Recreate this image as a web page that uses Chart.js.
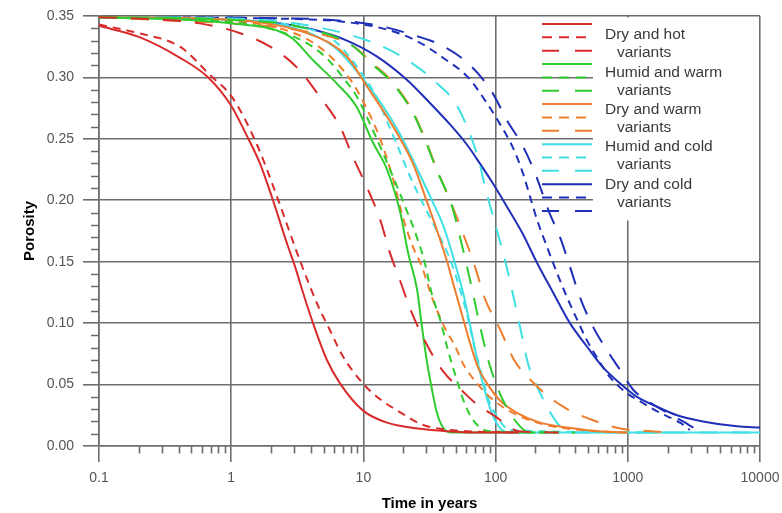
<!DOCTYPE html>
<html><head><meta charset="utf-8">
<script src="https://cdn.jsdelivr.net/npm/chart.js@4.4.1/dist/chart.umd.min.js"></script>
<style>html,body{margin:0;padding:0;background:#fff;}#wrap{width:782px;height:513px;}</style>
</head><body><div id="wrap"><canvas id="c" width="782" height="513"></canvas></div>
<script>
// ---- data (time in years -> porosity) ----
const redSolidX = [0.1,0.2,0.41,0.67,1.0,1.32,1.65,2.07,2.64,3.04,3.49,4.16,5.3,6.65,9.9,15.1,26.8,43,70,150];
const redSolidY = [0.342,0.333,0.316,0.300,0.277,0.252,0.230,0.200,0.165,0.146,0.125,0.100,0.070,0.051,0.029,0.019,0.014,0.012,0.011,0.011];
const redShortX = [0.1,0.2,0.41,0.69,1.03,1.57,2.22,3.31,4.46,5.6,7.0,9.9,13.4,20,27,38,60,150];
const redShortY = [0.343,0.336,0.325,0.302,0.283,0.245,0.203,0.151,0.116,0.094,0.073,0.051,0.038,0.026,0.018,0.014,0.012,0.011];
const redLongX = [0.1,0.3,0.58,1.17,1.97,3.15,4.7,6.65,8.35,10.6,13.4,15.9,18.9,22.5,30,40,57,72,100,125,150,300];
const redLongY = [0.349,0.347,0.344,0.336,0.325,0.308,0.284,0.260,0.235,0.211,0.184,0.157,0.135,0.112,0.083,0.061,0.044,0.034,0.024,0.016,0.012,0.011];

const greenSolidX = [0.1,1,2.8,4.16,6.3,8.9,11.8,15.1,19,21.8,25.5,27.5,30.3,33,36,40,46.6,200];
const greenSolidY = [0.349,0.344,0.333,0.314,0.295,0.276,0.247,0.225,0.190,0.157,0.127,0.100,0.068,0.046,0.027,0.015,0.011,0.011];
const greenShortX = [0.1,1,3,5,7.5,8.95,11.8,15.9,20.5,25,29,32.9,38.5,43.6,49.5,58.6,70,90,300];
const greenShortY = [0.349,0.345,0.333,0.318,0.296,0.284,0.257,0.225,0.196,0.172,0.150,0.124,0.101,0.078,0.058,0.034,0.019,0.012,0.011];
const greenLongX = [0.1,1,3,8.2,11.6,16.7,23.7,29.3,35.4,46.8,53.8,60.8,70,77.6,90.7,114,153,180,400];
const greenLongY = [0.349,0.347,0.342,0.326,0.311,0.295,0.271,0.249,0.226,0.195,0.170,0.146,0.116,0.094,0.065,0.037,0.016,0.011,0.011];

const orangeSolidX = [0.1,1,4.2,7.5,10.6,14.1,17.9,23.7,29.3,36.7,43,49,56,64,73.6,86,108,145,217,347,600,1000];
const orangeSolidY = [0.349,0.347,0.334,0.317,0.293,0.273,0.255,0.230,0.203,0.173,0.150,0.128,0.106,0.084,0.064,0.051,0.037,0.027,0.019,0.015,0.012,0.011];
const orangeShortX = [0.1,1,3,5,8,10,13.4,16.7,19.9,23.7,27.7,33,41.4,49.5,56.7,72.3,97,135,206,307,600,1000];
const orangeShortY = [0.349,0.346,0.336,0.322,0.298,0.280,0.250,0.218,0.186,0.162,0.146,0.121,0.096,0.081,0.067,0.051,0.037,0.027,0.019,0.015,0.012,0.011];
const orangeLongX = [0.1,0.4,1,3,8.2,11.6,16.7,23.7,29.3,35.4,46.8,56.7,69.8,83,108,138,199,324,546,900,1500,2000];
const orangeLongY = [0.349,0.346,0.344,0.339,0.326,0.312,0.296,0.272,0.250,0.227,0.196,0.173,0.146,0.120,0.095,0.070,0.050,0.032,0.021,0.014,0.012,0.011];

const cyanSolidX = [0.1,1,3,6,9.4,14,18,22,27,33,40,46,52,57,62,66,72,80,90,100,112,130,10000];
const cyanSolidY = [0.349,0.347,0.340,0.325,0.302,0.277,0.258,0.240,0.220,0.200,0.180,0.160,0.140,0.124,0.106,0.092,0.072,0.051,0.032,0.020,0.013,0.011,0.011];
const cyanShortX = [0.1,1,3,6,9.9,12.7,15,18,22,28,36,46,54,60.8,67.5,77.6,87.6,102.5,128,2000];
const cyanShortY = [0.349,0.347,0.342,0.330,0.302,0.283,0.265,0.245,0.222,0.198,0.175,0.150,0.127,0.107,0.085,0.060,0.039,0.024,0.013,0.011];
const cyanLongX = [0.1,1,4,13.4,23.7,35.4,51,73,86,102,118,133,153,176,213,291,360,10000];
const cyanLongY = [0.349,0.348,0.342,0.326,0.311,0.296,0.277,0.236,0.205,0.176,0.151,0.127,0.097,0.067,0.045,0.019,0.011,0.011];

const blueSolidX = [0.1,1,2.34,4.16,7.5,12.7,21.4,32,45,61,76,95,120,160,206,272,365,491,650,873,1174,1660,2360,3700,6700,10000];
const blueSolidY = [0.349,0.347,0.344,0.339,0.330,0.317,0.298,0.279,0.262,0.245,0.230,0.214,0.196,0.173,0.149,0.125,0.100,0.081,0.064,0.051,0.040,0.032,0.025,0.020,0.016,0.015];
const blueShortX = [0.1,2,7.5,15,25,40,62,86,108,135,161,182,206,245,291,347,413,491,585,733,986,1300,1750,2480,2950];
const blueShortY = [0.349,0.348,0.345,0.339,0.330,0.316,0.300,0.279,0.262,0.243,0.222,0.203,0.184,0.162,0.141,0.121,0.103,0.086,0.072,0.056,0.043,0.035,0.027,0.019,0.013];
const blueLongX = [0.1,3,11.8,23,39,64,94,122,161,199,255,307,365,435,546,696,873,1094,1397,1847,2616,3338];
const blueLongY = [0.349,0.348,0.343,0.335,0.326,0.310,0.288,0.265,0.244,0.222,0.190,0.170,0.146,0.121,0.097,0.078,0.062,0.046,0.037,0.029,0.020,0.013];

const groupNames = ['Dry and hot','Humid and warm','Dry and warm','Humid and cold','Dry and cold'];
const variantLabel = 'variants';
const xTickValues = [0.1,1,10,100,1000,10000];
const xTickLabels = ['0.1','1','10','100','1000','10000'];
const yTickValues = [0,0.05,0.10,0.15,0.20,0.25,0.30,0.35];
const yTickLabels = ['0.00','0.05','0.10','0.15','0.20','0.25','0.30','0.35'];
const xAxisTitle = 'Time in years';
const yAxisTitle = 'Porosity';

// ---- styling ----
const colors = ['#d82b2b','#2fcc2f','#ef7d2e','#3fe0e4','#1f2fb8'];
const plotDash = [[], [8,6], [18,14]];
const legendDash = [[], [10,7], [17,16]];
const gridColor = '#6e6e6e';
const FONT = 'Arial, "Liberation Sans", sans-serif';

const seriesX = [[redSolidX,redShortX,redLongX],[greenSolidX,greenShortX,greenLongX],[orangeSolidX,orangeShortX,orangeLongX],[cyanSolidX,cyanShortX,cyanLongX],[blueSolidX,blueShortX,blueLongX]];
const seriesY = [[redSolidY,redShortY,redLongY],[greenSolidY,greenShortY,greenLongY],[orangeSolidY,orangeShortY,orangeLongY],[cyanSolidY,cyanShortY,cyanLongY],[blueSolidY,blueShortY,blueLongY]];

const datasets = [];
for (let g = 0; g < 5; g++) {
  for (let s = 0; s < 3; s++) {
    const xs = seriesX[g][s], ys = seriesY[g][s];
    datasets.push({
      label: s === 0 ? groupNames[g] : variantLabel,
      data: xs.map((x, i) => ({x: x, y: ys[i]})),
      borderColor: colors[g],
      borderWidth: 2,
      borderDash: plotDash[s],
      pointRadius: 0,
      fill: false,
      cubicInterpolationMode: 'monotone'
    });
  }
}

const legendPlugin = {
  id: 'customLegend',
  beforeDatasetsDraw(chart) {
    const ctx = chart.ctx, a = chart.chartArea;
    ctx.save();
    ctx.fillStyle = '#ffffff';
    ctx.fillRect(a.right - 167, a.top + 1.5, 166, 203);
    ctx.restore();
  },
  afterDatasetsDraw(chart) {
    const ctx = chart.ctx, a = chart.chartArea;
    const x0 = a.right - 218, x1 = a.right - 168;
    ctx.save();
    ctx.lineWidth = 2;
    for (let g = 0; g < 5; g++) {
      for (let s = 0; s < 3; s++) {
        const y = a.top + 8 + (g * 3 + s) * 13.35;
        ctx.strokeStyle = colors[g];
        ctx.setLineDash(legendDash[s]);
        ctx.beginPath(); ctx.moveTo(x0, y); ctx.lineTo(x1, y); ctx.stroke();
      }
    }
    ctx.setLineDash([]);
    ctx.fillStyle = '#3a3a3a';
    ctx.font = '15.5px ' + FONT;
    ctx.textBaseline = 'middle';
    ctx.textAlign = 'left';
    for (let g = 0; g < 5; g++) {
      ctx.fillText(groupNames[g], a.right - 155, a.top + 19 + g * 37.4);
      ctx.fillText(variantLabel, a.right - 143, a.top + 37 + g * 37.4);
    }
    ctx.restore();
  },
  afterDraw(chart) {
    const ctx = chart.ctx, a = chart.chartArea;
    const xs = chart.scales.x, ys = chart.scales.y;
    ctx.save();
    ctx.strokeStyle = gridColor;
    ctx.lineWidth = 1.6;
    ctx.beginPath();
    for (let d = 0; d < xTickValues.length - 1; d++) {
      for (let k = 2; k <= 9; k++) {
        const px = Math.round(xs.getPixelForValue(xTickValues[d] * k)) + 0.5;
        ctx.moveTo(px, a.bottom); ctx.lineTo(px, a.bottom + 7.5);
      }
    }
    for (let i = 1; i < 35; i++) {
      if (i % 5 === 0) continue;
      const py = Math.round(ys.getPixelForValue(i / 100)) + 0.5;
      ctx.moveTo(a.left - 8, py); ctx.lineTo(a.left, py);
    }
    ctx.stroke();
    ctx.restore();
  }
};

new Chart(document.getElementById('c'), {
  type: 'line',
  data: { datasets: datasets },
  plugins: [legendPlugin],
  options: {
    responsive: false,
    animation: false,
    devicePixelRatio: 1,
    layout: { padding: { top: 16, right: 22, bottom: 0, left: 0 } },
    plugins: { legend: { display: false }, tooltip: { enabled: false } },
    scales: {
      x: {
        type: 'logarithmic', min: 0.1, max: 10000,
        afterBuildTicks: s => { s.ticks = xTickValues.map(v => ({ value: v, major: true })); },
        afterFit: s => { s.height = 67; s.paddingLeft = 0; s.paddingRight = 0; },
        ticks: {
          autoSkip: false, maxRotation: 0, padding: 8, color: '#555555',
          font: { family: FONT, size: 14 },
          callback: v => { const i = xTickValues.findIndex(t => Math.abs(t - v) < t * 1e-6); return i >= 0 ? xTickLabels[i] : null; }
        },
        grid: { color: gridColor, lineWidth: 1.6, tickLength: 16, tickColor: gridColor },
        border: { color: gridColor, width: 1.6 },
        title: { display: true, text: xAxisTitle, color: '#000', font: { family: FONT, size: 15, weight: 'bold' }, padding: { top: 0, bottom: 0 } }
      },
      y: {
        min: 0, max: 0.35,
        afterBuildTicks: s => { s.ticks = yTickValues.map(v => ({ value: v })); },
        afterFit: s => { s.width = 99; s.paddingTop = 0; s.paddingBottom = 0; },
        ticks: {
          padding: 9, color: '#555555',
          font: { family: FONT, size: 14 },
          callback: v => { const i = yTickValues.findIndex(t => Math.abs(t - v) < 1e-6); return i >= 0 ? yTickLabels[i] : null; }
        },
        grid: { color: gridColor, lineWidth: 1.6, tickLength: 16, tickColor: gridColor },
        border: { color: gridColor, width: 1.6 },
        title: { display: true, text: yAxisTitle, color: '#000', font: { family: FONT, size: 15, weight: 'bold' }, padding: { top: 21, bottom: 0 } }
      }
    }
  }
});
</script></body></html>
